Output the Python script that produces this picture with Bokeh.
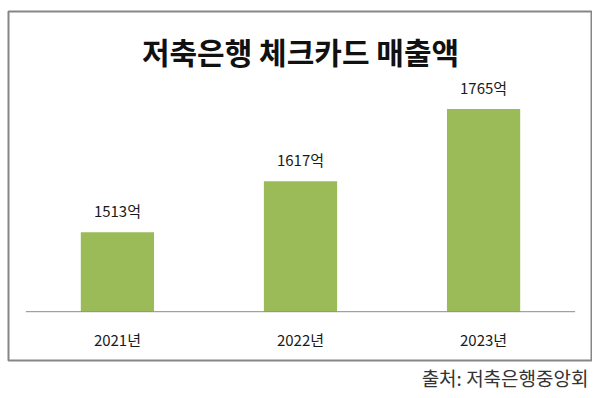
from bokeh.plotting import figure
from bokeh.models import ColumnDataSource, FactorRange, Range1d, Label, Title
from bokeh.transform import dodge
from bokeh.core.properties import value
from bokeh.embed import file_html
from bokeh.resources import INLINE

# ---- data ----
years = ["2021년", "2022년", "2023년"]
sales = [1513, 1617, 1765]
unit = "억"
title_text = "저축은행 체크카드 매출액"
source_text = "출처: 저축은행중앙회"
axis_base = 1350
y_lo, y_hi = 1250, 1965

FONT = "Noto Sans CJK KR"

src = ColumnDataSource(dict(
    year=years,
    sales=sales,
    label=[f"{v}{unit}" for v in sales],
    base=[axis_base] * len(years),
))
line_src = ColumnDataSource(dict(x0=[years[0]], x1=[years[-1]], y=[axis_base]))

p = figure(
    width=592, height=398,
    x_range=FactorRange(factors=years, range_padding=0.095, range_padding_units="absolute"),
    y_range=Range1d(y_lo, y_hi),
    x_axis_location=None, y_axis_location=None,
    output_backend="svg", toolbar_location=None,
    min_border_left=8, min_border_right=0, min_border_top=11, min_border_bottom=38,
)
p.grid.visible = False
p.outline_line_color = "#868686"
p.outline_line_width = 2
p.background_fill_color = "white"
p.border_fill_color = "white"

p.vbar(x="year", top="sales", bottom="base", width=0.4, source=src,
       fill_color="#9BBB59", line_color=None)

p.segment(x0=dodge("x0", -0.5, range=p.x_range), y0="y",
          x1=dodge("x1", 0.5, range=p.x_range), y1="y",
          source=line_src, line_color="#8c8c8c", line_width=1)

p.text(x="year", y="sales", text="label", source=src, y_offset=-11,
       text_align="center", text_baseline="bottom",
       text_font=value(FONT), text_font_size="15px", text_color="#1a1a1a")

p.text(x="year", y="base", text="year", source=src, y_offset=17,
       text_align="center", text_baseline="top",
       text_font=value(FONT), text_font_size="15px", text_color="#1a1a1a")

p.add_layout(Label(x=292, y=310, x_units="screen", y_units="screen",
                   text=title_text, text_align="center", text_baseline="middle",
                   text_font=FONT, text_font_size="30px", text_font_style="bold",
                   text_color="#111111"))

p.add_layout(Title(text=source_text, align="right", offset=4, standoff=3,
                   text_font=FONT, text_font_size="19px", text_font_style="normal",
                   text_color="#333333"), "below")

open("out.html", "w").write(file_html(p, INLINE))
